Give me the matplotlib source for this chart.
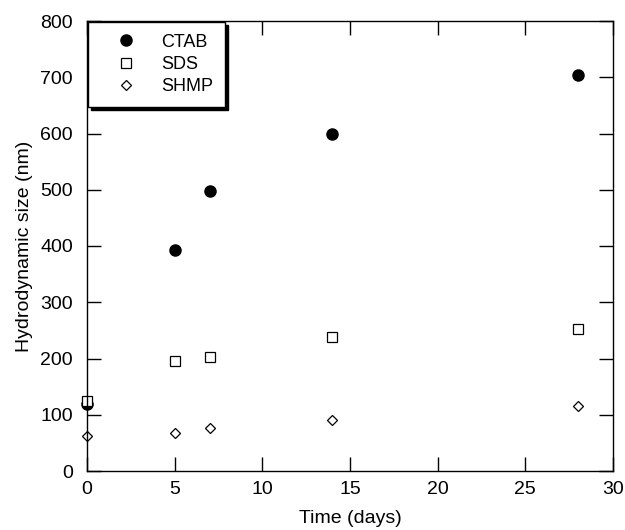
import matplotlib
matplotlib.use("Agg")
import matplotlib.pyplot as plt

plt.rcParams["font.family"] = ["Liberation Sans", "DejaVu Sans"]

days = [0, 5, 7, 14, 28]
ctab = [120, 393, 497, 600, 704]
sds = [125, 196, 202, 238, 253]
shmp = [62, 67, 77, 91, 115]

fig = plt.figure(figsize=(6.25, 5.3), dpi=100)
ax = fig.add_axes([87 / 625, 1 - 471 / 530, (613 - 87) / 625, (471 - 21) / 530])

ax.plot(days, ctab, "o", color="black", ms=8, label="CTAB", clip_on=False)
ax.plot(days, sds, "s", mfc="white", mec="black", mew=0.9, ms=7, label="SDS", clip_on=False)
ax.plot(days, shmp, "D", mfc="white", mec="black", mew=0.9, ms=5.5, label="SHMP", clip_on=False)

ax.set_xlim(0, 30)
ax.set_ylim(0, 800)
ax.set_xticks(range(0, 31, 5))
ax.set_yticks(range(0, 801, 100))
ax.tick_params(direction="in", length=10, width=1, top=True, right=True, labelsize=14)
ax.tick_params(axis="x", pad=7)
ax.tick_params(axis="y", pad=10)
for s in ax.spines.values():
    s.set_linewidth(1)

ax.set_xlabel("Time (days)", fontsize=14, labelpad=9)
ax.set_ylabel("Hydrodynamic size (nm)", fontsize=14, labelpad=5)

leg = ax.legend(loc="upper left", bbox_to_anchor=(0.002, 0.998), frameon=True, fancybox=False,
                shadow={"color": "black", "alpha": 1}, edgecolor="black", fontsize=13,
                borderaxespad=0, handletextpad=0.5, labelspacing=0.3, borderpad=0.65,
                handlelength=2.9)
leg.get_frame().set_linewidth(1)
leg.get_frame().set_alpha(1)

fig.savefig("out.png", dpi=100)
